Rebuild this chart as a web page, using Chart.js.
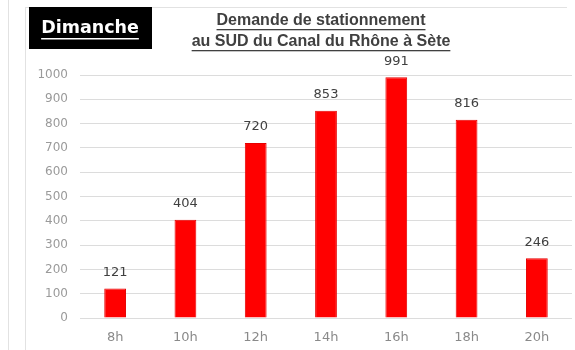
<!DOCTYPE html>
<html>
<head>
<meta charset="utf-8">
<script src="https://cdn.jsdelivr.net/npm/chart.js@4"></script>
<style>
  html, body { margin: 0; padding: 0; background: #fff; }
</style>
</head>
<body>
<canvas id="demande" width="575" height="350"></canvas>
<script>
// Demande de stationnement par tranche horaire (dimanche)
const heures = ['8h', '10h', '12h', '14h', '16h', '18h', '20h']
const places = [121, 404, 720, 853, 991, 816, 246]
const titre = ['Demande de stationnement', 'au SUD du Canal du Rhône à Sète']
const jour = 'Dimanche'

const GRIS = '#404040'

// cadre, bandeau du jour et titre souligné
const decor = {
    id: 'decor',
    beforeDraw(chart) {
        const c = chart.ctx
        c.save()
        c.fillStyle = '#fff'
        c.fillRect(0, 0, chart.width, chart.height)
        c.strokeStyle = '#e2e2e2'
        c.lineWidth = 1
        c.beginPath()
        c.moveTo(8.5, 0); c.lineTo(8.5, 350)
        c.moveTo(25.5, 7); c.lineTo(25.5, 350)
        c.moveTo(25, 7.5); c.lineTo(567, 7.5)
        c.stroke()
        c.restore()
    },
    afterDraw(chart) {
        const c = chart.ctx
        c.save()
        // bandeau noir
        c.fillStyle = '#000'
        c.fillRect(29, 7, 123, 42)
        c.font = 'bold 17.5px "DejaVu Sans"'
        c.fillStyle = '#fff'
        c.textAlign = 'center'
        c.textBaseline = 'middle'
        c.fillText(jour, 90, 28)
        let w = c.measureText(jour).width
        c.fillRect(90 - w / 2, 38, w, 1.5)
        // titre
        c.font = 'bold 16px "Liberation Sans"'
        c.fillStyle = GRIS
        titre.forEach((t, i) => {
            const y = 21 + i * 21
            c.fillText(t, 321, y)
            w = c.measureText(t).width
            c.fillRect(321 - w / 2, y + 8, w, 1.3)
        })
        c.restore()
    },
    afterDatasetsDraw(chart) {
        const c = chart.ctx
        c.save()
        c.font = '13px "DejaVu Sans"'
        c.fillStyle = GRIS
        c.textAlign = 'center'
        c.textBaseline = 'middle'
        chart.getDatasetMeta(0).data.forEach((bar, i) => {
            c.fillText(places[i], bar.x, bar.y - 16)
        })
        c.restore()
    }
}

new Chart(document.getElementById('demande'), {
    type: 'bar',
    data: {
        labels: heures,
        datasets: [{
            data: places,
            backgroundColor: '#ff0000',
            borderColor: '#e60000',
            borderWidth: 1,
            categoryPercentage: 1,
            barPercentage: 0.31
        }]
    },
    options: {
        responsive: false,
        animation: false,
        layout: { padding: { top: 75, right: 3, left: 0, bottom: 0 } },
        plugins: { legend: { display: false }, tooltip: { enabled: false } },
        scales: {
            x: {
                grid: { display: false, drawTicks: false },
                border: { display: false },
                ticks: { color: '#8a8a8a', font: { family: 'DejaVu Sans', size: 13 }, padding: 12 },
                afterFit: s => { s.height = 32 }
            },
            y: {
                min: 0,
                max: 1000,
                grid: { color: '#dcdcdc', drawTicks: false },
                border: { display: false },
                ticks: {
                    stepSize: 100,
                    color: '#9a9a9a',
                    font: { family: 'DejaVu Sans', size: 12 },
                    padding: 12,
                    callback: v => String(v)
                },
                afterFit: s => { s.width = 80 }
            }
        }
    },
    plugins: [decor]
})
</script>
</body>
</html>
